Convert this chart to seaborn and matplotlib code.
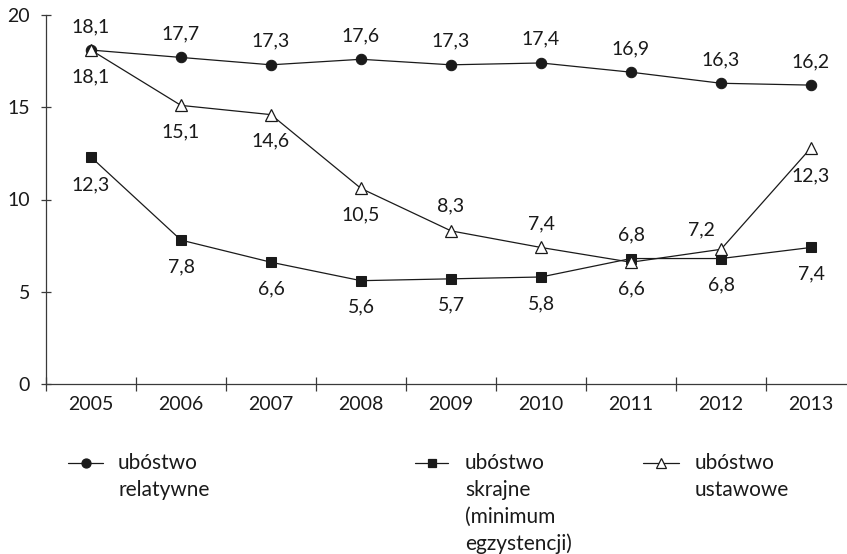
import numpy as np
import pandas as pd
import seaborn as sns
import matplotlib
matplotlib.use("Agg")
import matplotlib.pyplot as plt
from matplotlib.lines import Line2D

years = ["2005", "2006", "2007", "2008", "2009", "2010", "2011", "2012", "2013"]
relatywne = [18.1, 17.7, 17.3, 17.6, 17.3, 17.4, 16.9, 16.3, 16.2]
skrajne = [12.3, 7.8, 6.6, 5.6, 5.7, 5.8, 6.8, 6.8, 7.4]
ustawowe = [18.1, 15.1, 14.6, 10.6, 8.3, 7.4, 6.6, 7.3, 12.8]
relatywne_labels = ["18,1", "17,7", "17,3", "17,6", "17,3", "17,4", "16,9", "16,3", "16,2"]
skrajne_labels = ["12,3", "7,8", "6,6", "5,6", "5,7", "5,8", "6,8", "6,8", "7,4"]
ustawowe_labels = ["18,1", "15,1", "14,6", "10,5", "8,3", "7,4", "6,6", "7,2", "12,3"]
legend_names = [["ubóstwo", "relatywne"],
                ["ubóstwo", "skrajne", "(minimum", "egzystencji)"],
                ["ubóstwo", "ustawowe"]]
y_ticks = [0, 5, 10, 15, 20]

sns.set_theme(style="white")
plt.rcParams["font.family"] = ["Lato", "DejaVu Sans"]

W, H = 847, 554
fig = plt.figure(figsize=(W / 100, H / 100), dpi=100)
ax = fig.add_axes([46 / W, 1 - 384 / H, 1 - 46 / W, (384 - 15) / H])

x = np.arange(len(years))
df = pd.DataFrame({"x": x, "rel": relatywne, "skr": skrajne, "ust": ustawowe})

col = "#1a1a1a"
axcol = "#3a3a3a"
lw = 0.9
sns.lineplot(data=df, x="x", y="rel", ax=ax, color=col, lw=lw, marker="o",
             markersize=7.5, markerfacecolor=col, markeredgecolor=col, zorder=2)
sns.lineplot(data=df, x="x", y="skr", ax=ax, color=col, lw=lw, marker="s",
             markersize=7, markerfacecolor=col, markeredgecolor=col, zorder=3)
sns.lineplot(data=df, x="x", y="ust", ax=ax, color=col, lw=lw, marker="^",
             markersize=8.5, markerfacecolor="white", markeredgecolor=col,
             markeredgewidth=0.9, zorder=4)

fs = 14
A, B = 17, -19
rel_off = [(0, A)] * 9
ust_off = [(0, B), (0, B), (0, B), (0, B), (0, A + 1), (0, A), (0, B), (-14, 14), (0, B - 1)]
skr_off = [(0, B - 1), (0, B), (0, B), (0, B), (0, B), (0, B), (0, A), (0, B), (0, B)]
for vals, labs, offs in [(relatywne, relatywne_labels, rel_off),
                         (ustawowe, ustawowe_labels, ust_off),
                         (skrajne, skrajne_labels, skr_off)]:
    for i, (v, l, o) in enumerate(zip(vals, labs, offs)):
        ax.annotate(l, (x[i], v), xytext=o, textcoords="offset points",
                    ha="center", va="center", fontsize=fs, color=col)

ax.set_xlim(-0.5, 8.4)
ax.set_ylim(0, 20)
ax.set_yticks(y_ticks)
ax.set_yticklabels([str(t) for t in y_ticks], fontsize=fs, color=col)
ax.set_xticks(np.arange(-0.5, 8.5, 1.0))
ax.set_xticklabels([])
ax.set_xticks(x, minor=True)
ax.set_xticklabels(years, minor=True, fontsize=fs, color=col)
ax.tick_params(axis="x", which="major", bottom=True, direction="inout", length=10,
               width=0.9, color=axcol)
ax.tick_params(axis="x", which="minor", bottom=True, length=0, pad=9)
ax.tick_params(axis="y", left=True, direction="inout", length=7, width=0.9,
               color=axcol, pad=8)
ax.set_xlabel("")
ax.set_ylabel("")
for s in ["top", "right"]:
    ax.spines[s].set_visible(False)
for s in ["left", "bottom"]:
    ax.spines[s].set_color(axcol)
    ax.spines[s].set_linewidth(0.9)

# Legend (drawn manually so the handle aligns with the first line)
markers = [("o", col, 6.5), ("s", col, 6), ("^", "white", 7)]
handle_x = [(68, 103), (415, 448), (643, 679)]
text_x = [118, 465, 695]
y0, dy = 463, 27
for (m, fc, ms), (hx0, hx1), tx, lines in zip(markers, handle_x, text_x, legend_names):
    yf = 1 - y0 / H
    fig.add_artist(Line2D([hx0 / W, hx1 / W], [yf, yf], transform=fig.transFigure,
                          color=col, lw=lw))
    fig.add_artist(Line2D([(hx0 + hx1) / 2 / W], [yf], transform=fig.transFigure,
                          marker=m, markersize=ms, markerfacecolor=fc,
                          markeredgecolor=col, markeredgewidth=0.9, lw=0))
    for k, line in enumerate(lines):
        fig.text(tx / W, 1 - (y0 + k * dy) / H, line, fontsize=15, color=col,
                 ha="left", va="center")

fig.savefig("out.png", dpi=100)
